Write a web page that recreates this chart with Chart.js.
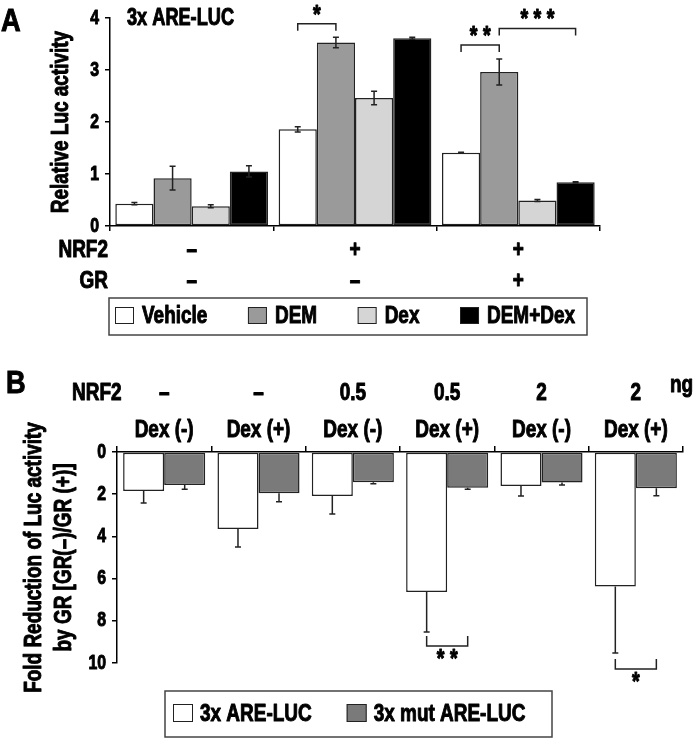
<!DOCTYPE html>
<html>
<head>
<meta charset="utf-8">
<script src="https://cdn.jsdelivr.net/npm/chart.js@4.4.1/dist/chart.umd.min.js"></script>
<style>
    html, body { margin: 0; padding: 0; background: #fff; }
    #page { position: relative; width: 693px; height: 738px; overflow: hidden; }
    #panelA { position: absolute; left: 0; top: 0; }
    #panelB { position: absolute; left: 0; top: 355px; }
    .tag { position: absolute; font: bold 32px "Liberation Sans", Arial, sans-serif; line-height: 1; color: #000; transform: scaleX(0.85); transform-origin: left top; -webkit-text-stroke: 1px #000; }
</style>
</head>
<body>
<div id="page">
    <canvas id="panelA" width="693" height="355"></canvas>
    <canvas id="panelB" width="693" height="383"></canvas>
    <div class="tag" style="left:1px; top:4px;">A</div>
    <div class="tag" style="left:6px; top:366px;">B</div>
</div>
<script>
// ---- panel A data ----
const nrf2A = ['–', '+', '+'];
const grA = ['–', '–', '+'];
const seriesA = ['Vehicle', 'DEM', 'Dex', 'DEM+Dex'];
const vehicleA = [0.43, 1.86, 1.41];
const vehicleErrA = [0.02, 0.05, 0.01];
const demA = [0.92, 3.53, 2.96];
const demErrA = [0.23, 0.10, 0.25];
const dexA = [0.38, 2.46, 0.49];
const dexErrA = [0.03, 0.13, 0.02];
const demDexA = [1.05, 3.61, 0.84];
const demDexErrA = [0.11, 0.02, 0.01];
const yTicksA = { min: 0, max: 4, step: 1 };
const sigA = [
    { group: 1, from: 0, to: 1, level: 3.89, label: '*' },
    { group: 2, from: 0, to: 1, level: 3.48, label: '**' },
    { group: 2, from: 1, to: 3, level: 3.80, label: '***' }
];

// ---- panel B data ----
const nrf2B = ['–', '–', '0.5', '0.5', '2', '2'];
const dexB = ['Dex (-)', 'Dex (+)', 'Dex (-)', 'Dex (+)', 'Dex (-)', 'Dex (+)'];
const seriesB = ['3x ARE-LUC', '3x mut ARE-LUC'];
const areB = [1.85, 3.65, 2.09, 6.63, 1.61, 6.38];
const areErrB = [0.57, 0.85, 0.85, 1.90, 0.47, 3.15];
const mutB = [1.56, 1.96, 1.43, 1.70, 1.44, 1.72];
const mutErrB = [0.20, 0.40, 0.08, 0.06, 0.12, 0.35];
const yTicksB = { min: 0, max: 10, step: 2 };
const sigB = [
    { group: 3, from: 0, to: 1, level: 9.19, label: '**' },
    { group: 5, from: 0, to: 1, level: 10.28, label: '*' }
];

const FONT = '"Liberation Sans", Arial, sans-serif';
const INK = '#222';

// the figure uses a heavy condensed face; squeeze and thicken every canvas text run
const SQUEEZE = 0.79;
const baseFillText = CanvasRenderingContext2D.prototype.fillText;
CanvasRenderingContext2D.prototype.fillText = function (text, x, y) {
    this.save();
    this.translate(x, y);
    this.scale(SQUEEZE, 1);
    this.strokeStyle = this.fillStyle;
    this.lineWidth = 1;
    this.lineJoin = 'round';
    this.setLineDash([]);
    this.strokeText(text, 0, 0);
    baseFillText.call(this, text, 0, 0);
    this.restore();
};

const errorBars = {
    id: 'errorBars',
    afterDatasetsDraw(chart, args, opts) {
        const ctx = chart.ctx;
        const y = chart.scales.y;
        ctx.save();
        ctx.strokeStyle = INK;
        ctx.lineWidth = 1.5;
        chart.data.datasets.forEach((ds, di) => {
            chart.getDatasetMeta(di).data.forEach((bar, i) => {
                const v = ds.data[i];
                const e = ds.errors[i];
                const hi = y.getPixelForValue(v + e);
                const lo = y.getPixelForValue(opts.oneSided ? v : v - e);
                ctx.beginPath();
                ctx.moveTo(bar.x, lo);
                ctx.lineTo(bar.x, hi);
                ctx.moveTo(bar.x - opts.cap, hi);
                ctx.lineTo(bar.x + opts.cap, hi);
                if (!opts.oneSided) {
                    ctx.moveTo(bar.x - opts.cap, lo);
                    ctx.lineTo(bar.x + opts.cap, lo);
                }
                ctx.stroke();
            });
        });
        ctx.restore();
    }
};

const brackets = {
    id: 'brackets',
    afterDraw(chart, args, opts) {
        const ctx = chart.ctx;
        ctx.save();
        ctx.strokeStyle = INK;
        ctx.fillStyle = '#000';
        ctx.lineWidth = 1.5;
        ctx.font = 'bold 25px ' + FONT;
        ctx.textAlign = 'center';
        ctx.textBaseline = 'middle';
        opts.items.forEach((b) => {
            const x1 = chart.getDatasetMeta(b.from).data[b.group].x;
            const x2 = chart.getDatasetMeta(b.to).data[b.group].x;
            const yy = chart.scales.y.getPixelForValue(b.level);
            ctx.beginPath();
            ctx.moveTo(x1, yy + opts.dir * opts.drop);
            ctx.lineTo(x1, yy);
            ctx.lineTo(x2, yy);
            ctx.lineTo(x2, yy + opts.dir * opts.drop);
            ctx.stroke();
            ctx.fillText(b.label.split('').join(' '), (x1 + x2) / 2, yy - opts.dir * opts.labelGap);
        });
        ctx.restore();
    }
};

const notes = {
    id: 'notes',
    afterDraw(chart, args, opts) {
        const ctx = chart.ctx;
        ctx.save();
        ctx.fillStyle = '#000';
        ctx.textBaseline = 'middle';
        opts.items.forEach((t) => {
            ctx.font = 'bold ' + (t.size || 24) + 'px ' + FONT;
            ctx.textAlign = t.align || 'left';
            ctx.fillText(t.text, t.x, t.y);
        });
        ctx.restore();
    }
};

const boxLegend = {
    id: 'boxLegend',
    afterDraw(chart, args, opts) {
        const ctx = chart.ctx;
        const datasets = chart.data.datasets;
        ctx.save();
        ctx.font = 'bold 24px ' + FONT;
        ctx.textBaseline = 'middle';
        ctx.textAlign = 'left';
        ctx.strokeStyle = '#444';
        ctx.lineWidth = 1.5;
        ctx.strokeRect(opts.left, opts.top, opts.width, opts.height);

        const widths = datasets.map((ds) => opts.box + opts.gap + ctx.measureText(ds.label).width * SQUEEZE);
        const used = widths.reduce((a, b) => a + b, 0);
        const spread = opts.spacing != null
            ? opts.spacing
            : (opts.width - opts.padLeft - opts.padRight - used) / (datasets.length - 1);
        const cy = opts.top + opts.height / 2;
        let x = opts.left + opts.padLeft;
        datasets.forEach((ds, i) => {
            ctx.fillStyle = ds.backgroundColor;
            ctx.fillRect(x, cy - opts.box / 2, opts.box, opts.box - 2);
            ctx.strokeStyle = INK;
            ctx.lineWidth = 1;
            ctx.strokeRect(x + 0.5, cy - opts.box / 2 + 0.5, opts.box - 1, opts.box - 3);
            ctx.fillStyle = '#000';
            ctx.fillText(ds.label, x + opts.box + opts.gap, cy);
            x += widths[i] + spread;
        });
        ctx.restore();
    }
};

function bars(label, data, errors, color) {
    return {
        label: label,
        data: data,
        errors: errors,
        backgroundColor: color,
        borderColor: INK,
        borderWidth: 1.5,
        borderSkipped: false
    };
}

new Chart(document.getElementById('panelA'), {
    type: 'bar',
    data: {
        labels: nrf2A.map((n, i) => [n, grA[i]]),
        datasets: [
            bars(seriesA[0], vehicleA, vehicleErrA, '#ffffff'),
            bars(seriesA[1], demA, demErrA, '#9a9a9a'),
            bars(seriesA[2], dexA, dexErrA, '#d5d5d5'),
            bars(seriesA[3], demDexA, demDexErrA, '#000000')
        ]
    },
    options: {
        responsive: false,
        animation: false,
        layout: { padding: { top: 13, right: 93, bottom: 0, left: 0 } },
        datasets: { bar: { categoryPercentage: 0.935, barPercentage: 1 } },
        plugins: {
            legend: { display: false },
            tooltip: { enabled: false },
            errorBars: { cap: 3, oneSided: false },
            brackets: { items: sigA, dir: 1, drop: 7, labelGap: 8 },
            notes: {
                items: [
                    { text: '3x ARE-LUC', x: 127, y: 19, size: 23 },
                    { text: 'NRF2', x: 108, y: 250, align: 'right' },
                    { text: 'GR', x: 108, y: 281, align: 'right' }
                ]
            },
            boxLegend: { left: 109, top: 298, width: 478, height: 37, box: 19, gap: 8, padLeft: 6, padRight: 12 }
        },
        scales: {
            x: {
                afterFit: (s) => { s.height = 129; },
                grid: { offset: true, drawOnChartArea: false, tickLength: 5, color: '#000', lineWidth: 1.5 },
                border: { color: '#000', width: 1.5 },
                ticks: { color: '#000', padding: 4, maxRotation: 0, font: { family: FONT, size: 24, weight: 'bold', lineHeight: 31 / 24 } }
            },
            y: {
                min: yTicksA.min,
                max: yTicksA.max,
                afterFit: (s) => { s.width = 110; },
                grid: { drawOnChartArea: false, tickLength: 5, color: '#000', lineWidth: 1.5 },
                border: { color: '#000', width: 1.5 },
                ticks: { stepSize: yTicksA.step, color: '#000', padding: 6, font: { family: FONT, size: 20, weight: 'bold' } },
                title: {
                    display: true,
                    text: 'Relative Luc activity',
                    color: '#000',
                    padding: { top: 47, bottom: 0 },
                    font: { family: FONT, size: 24, weight: 'bold' }
                }
            }
        }
    },
    plugins: [errorBars, brackets, notes, boxLegend]
});

new Chart(document.getElementById('panelB'), {
    type: 'bar',
    data: {
        labels: nrf2B.map((n, i) => [n, dexB[i]]),
        datasets: [
            bars(seriesB[0], areB, areErrB, '#ffffff'),
            bars(seriesB[1], mutB, mutErrB, '#7a7a7a')
        ]
    },
    options: {
        responsive: false,
        animation: false,
        layout: { padding: { top: 0, right: 10, bottom: 75, left: 0 } },
        datasets: { bar: { categoryPercentage: 0.87, barPercentage: 1 } },
        plugins: {
            legend: { display: false },
            tooltip: { enabled: false },
            errorBars: { cap: 3, oneSided: true },
            brackets: { items: sigB, dir: -1, drop: 10, labelGap: 14 },
            notes: {
                items: [
                    { text: 'NRF2', x: 72, y: 38 },
                    { text: 'ng', x: 670, y: 30 }
                ]
            },
            boxLegend: { left: 165, top: 336, width: 387, height: 46, box: 20, gap: 7, padLeft: 8, spacing: 35 }
        },
        scales: {
            x: {
                position: 'top',
                afterFit: (s) => { s.height = 97; },
                grid: { offset: true, drawOnChartArea: false, tickLength: 6, color: '#000', lineWidth: 1.5 },
                border: { color: '#000', width: 1.5 },
                ticks: { color: '#000', padding: -3, maxRotation: 0, font: { family: FONT, size: 24, weight: 'bold', lineHeight: 37 / 24 } }
            },
            y: {
                reverse: true,
                min: yTicksB.min,
                max: yTicksB.max,
                afterFit: (s) => { s.width = 117; },
                grid: { drawOnChartArea: false, tickLength: 5, color: '#000', lineWidth: 1.5 },
                border: { color: '#000', width: 1.5 },
                ticks: { stepSize: yTicksB.step, color: '#000', padding: 6, font: { family: FONT, size: 20, weight: 'bold' } },
                title: {
                    display: true,
                    text: ['Fold Reduction of Luc activity', 'by GR [GR(–)/GR (+)]'],
                    color: '#000',
                    padding: { top: 19, bottom: 0 },
                    font: { family: FONT, size: 24, weight: 'bold', lineHeight: 30 / 24 }
                }
            }
        }
    },
    plugins: [errorBars, brackets, notes, boxLegend]
});
</script>
</body>
</html>
